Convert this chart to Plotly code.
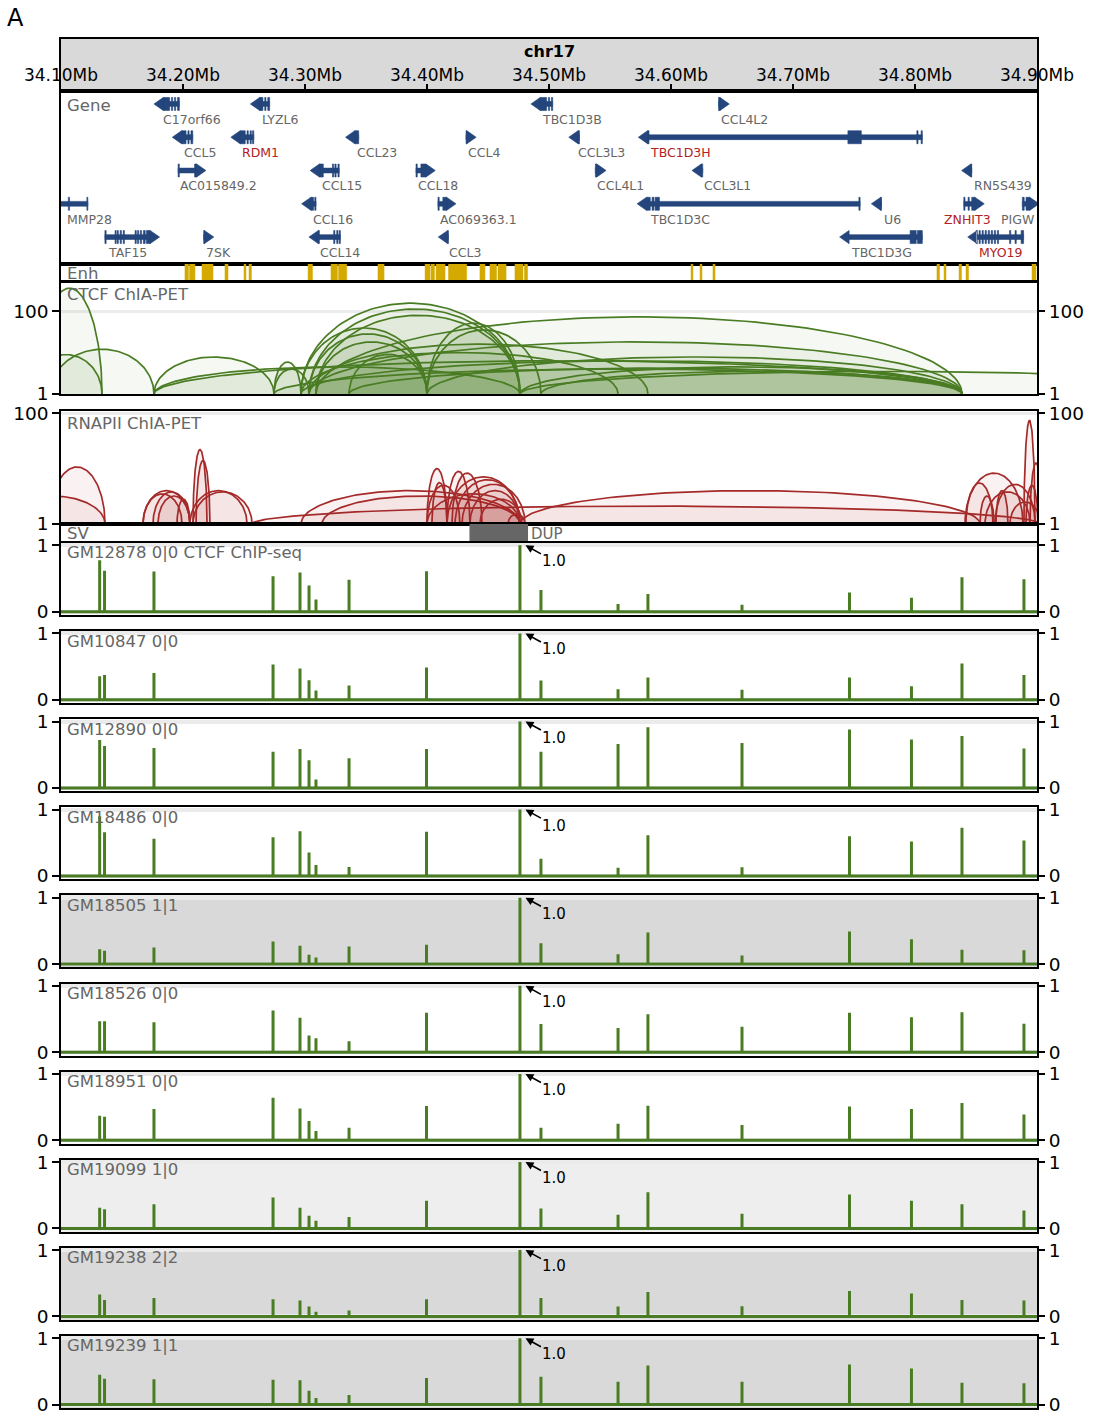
import numpy as np
import plotly.graph_objects as go

W, H = 1093, 1418
REGION = [34.10, 34.90]

# ---------------- data ----------------
TICK_VALS = [34.10, 34.20, 34.30, 34.40, 34.50, 34.60, 34.70, 34.80, 34.90]
TICK_TEXT = ["34.10Mb", "34.20Mb", "34.30Mb", "34.40Mb", "34.50Mb",
             "34.60Mb", "34.70Mb", "34.80Mb", "34.90Mb"]
CHROM = "chr17"

GRAY_TXT = "#666666"
RED_TXT = "#b22222"

gene_names = ["C17orf66", "LYZL6", "TBC1D3B", "CCL4L2",
              "CCL5", "RDM1", "CCL23", "CCL4", "CCL3L3", "TBC1D3H",
              "AC015849.2", "CCL15", "CCL18", "CCL4L1", "CCL3L1", "RN5S439",
              "MMP28", "CCL16", "AC069363.1", "TBC1D3C", "U6", "ZNHIT3", "PIGW",
              "TAF15", "7SK", "CCL14", "CCL3", "TBC1D3G", "MYO19"]
gene_rows = [1, 1, 1, 1,
             2, 2, 2, 2, 2, 2,
             3, 3, 3, 3, 3, 3,
             4, 4, 4, 4, 4, 4, 4,
             5, 5, 5, 5, 5, 5]
gene_strand = ["-", "-", "-", "+",
               "-", "-", "-", "+", "-", "-",
               "+", "-", "+", "+", "-", "-",
               "-", "-", "+", "-", "-", "+", "+",
               "+", "+", "-", "-", "-", "-"]
gene_start = [34.184, 34.263, 34.493, 34.639,
              34.199, 34.247, 34.341, 34.432, 34.524, 34.581,
              34.196, 34.312, 34.391, 34.538, 34.625, 34.846,
              34.080, 34.305, 34.409, 34.580, 34.772, 34.840, 34.888,
              34.136, 34.217, 34.311, 34.417, 34.746, 34.851]
gene_end = [34.197, 34.271, 34.503, 34.640,
            34.208, 34.258, 34.344, 34.4325, 34.525, 34.806,
            34.211, 34.328, 34.399, 34.539, 34.626, 34.8465,
            34.122, 34.309, 34.416, 34.755, 34.7725, 34.849, 34.894,
            34.173, 34.2175, 34.329, 34.4175, 34.806, 34.889]
gene_exons = [
    [(34.184, 34.189), (34.1905, 34.1915), (34.193, 34.194), (34.1955, 34.197)],
    [(34.263, 34.2655), (34.267, 34.268), (34.2695, 34.271)],
    [(34.493, 34.498), (34.4995, 34.5005), (34.502, 34.503)],
    [(34.639, 34.640)],
    [(34.199, 34.2025), (34.204, 34.205), (34.2065, 34.208)],
    [(34.247, 34.251), (34.2525, 34.2535), (34.255, 34.256), (34.257, 34.258)],
    [(34.341, 34.344)],
    [(34.432, 34.4325)],
    [(34.524, 34.525)],
    [(34.581, 34.582), (34.745, 34.756), (34.8015, 34.8025), (34.805, 34.806)],
    [(34.196, 34.197), (34.2095, 34.211)],
    [(34.312, 34.315), (34.3225, 34.3235), (34.3245, 34.3255), (34.327, 34.328)],
    [(34.391, 34.392), (34.395, 34.399)],
    [(34.538, 34.539)],
    [(34.625, 34.626)],
    [(34.846, 34.8465)],
    [(34.106, 34.107), (34.1212, 34.122)],
    [(34.305, 34.307), (34.308, 34.309)],
    [(34.409, 34.410), (34.413, 34.416)],
    [(34.580, 34.583), (34.5845, 34.586), (34.587, 34.5905), (34.754, 34.755)],
    [(34.772, 34.7725)],
    [(34.840, 34.841), (34.8435, 34.8445), (34.8465, 34.849)],
    [(34.888, 34.8895), (34.891, 34.894)],
    [(34.136, 34.137), (34.1443, 34.1452), (34.146, 34.147), (34.1485, 34.1495),
     (34.151, 34.152), (34.1607, 34.1617), (34.1627, 34.1637), (34.165, 34.166),
     (34.1675, 34.169), (34.170, 34.173)],
    [(34.217, 34.2175)],
    [(34.311, 34.3118), (34.3235, 34.3245), (34.326, 34.327), (34.328, 34.329)],
    [(34.417, 34.4175)],
    [(34.796, 34.801), (34.802, 34.806)],
    [(34.850, 34.851), (34.8525, 34.8535), (34.855, 34.856), (34.8575, 34.8585),
     (34.860, 34.861), (34.8625, 34.8635), (34.865, 34.866), (34.8675, 34.8685),
     (34.8775, 34.8785), (34.882, 34.883), (34.887, 34.889)],
]
gene_label_x = [34.182, 34.263, 34.493, 34.639,
                34.199, 34.247, 34.341, 34.432, 34.522, 34.581,
                34.196, 34.312, 34.391, 34.538, 34.625, 34.847,
                34.103, 34.305, 34.409, 34.581, 34.773, 34.822, 34.869,
                34.137, 34.217, 34.311, 34.416, 34.746, 34.851]
gene_highlight = ["RDM1", "TBC1D3H", "ZNHIT3", "MYO19"]

enh_start = [34.2016, 34.2053, 34.2156, 34.2344, 34.2500, 34.2541, 34.3025, 34.3213,
             34.3275, 34.3598, 34.3984, 34.4033, 34.4074, 34.4176, 34.4434, 34.4516,
             34.4582, 34.4721, 34.4799, 34.6164, 34.6238, 34.6344, 34.8180, 34.8238,
             34.8361, 34.8418, 34.8959]
enh_end = [34.2045, 34.2098, 34.2246, 34.2369, 34.2516, 34.2561, 34.3061, 34.3266,
           34.3342, 34.3648, 34.4025, 34.4061, 34.4148, 34.4325, 34.4475, 34.4570,
           34.4648, 34.4787, 34.4824, 34.6180, 34.6254, 34.6361, 34.8201, 34.8254,
           34.8381, 34.8439, 34.8992]

ctcf_start = [34.0803, 34.0746, 34.0910, 34.1762, 34.1762, 34.1762, 34.2746, 34.2746,
              34.2967, 34.3033, 34.3090, 34.2967, 34.3033, 34.3090, 34.3361, 34.4000,
              34.4000, 34.3090, 34.3033, 34.4000, 34.2967, 34.4762, 34.3361, 34.2746,
              34.4934, 34.4762, 34.3033, 34.2967]
ctcf_end = [34.1336, 34.1336, 34.1762, 34.2746, 34.4762, 34.8385, 34.2967, 34.3033,
            34.4762, 34.4762, 34.4762, 34.4000, 34.4000, 34.4000, 34.4000, 34.4762,
            34.4934, 34.8385, 34.8385, 34.8385, 34.8385, 34.8385, 34.8385, 34.8385,
            34.8385, 35.0746, 34.5811, 34.5566]
ctcf_score = [355, 8.9, 12, 7.8, 4.5, 6.3, 5.9, 4.0,
              155, 112, 79, 39, 28, 18, 9, 51,
              35, 72, 18, 7.8, 6.3, 4.5, 4.2, 4.0,
              3.5, 3.5, 16, 10]

rnap_start = [34.0902, 34.0500, 34.1672, 34.1754, 34.1672, 34.1795, 34.1951, 34.2082,
              34.2107, 34.2057, 34.2082, 34.2566, 34.2967, 34.3139, 34.4000, 34.4041,
              34.4000, 34.4164, 34.4205, 34.4164, 34.4230, 34.4287, 34.4000, 34.4352,
              34.4434, 34.4664, 34.4762, 34.8410, 34.8418, 34.8574, 34.8656, 34.8893,
              34.8943, 34.8910, 34.8533, 34.8664, 34.8779]
rnap_end = [34.1361, 34.1361, 34.2057, 34.2057, 34.1992, 34.2057, 34.2057, 34.2197,
            34.2221, 34.2525, 34.2566, 34.9025, 34.4762, 34.4762, 34.4164, 34.4164,
            34.4270, 34.4352, 34.4451, 34.4762, 34.4762, 34.4803, 34.4762, 34.4762,
            34.4779, 34.4803, 34.8533, 34.8885, 34.8639, 34.8943, 34.8984, 34.8984,
            34.9041, 34.9008, 34.8648, 34.8762, 34.9025]
rnap_score = [10.7, 3.2, 4.0, 3.8, 3.5, 3.2, 2.8, 22,
              14, 4.0, 3.8, 2.1, 4.0, 3.2, 10, 5.6,
              5.0, 8.9, 8.3, 7.1, 6.3, 5.2, 3.5, 4.0,
              2.8, 1.5, 4.0, 8.3, 5.5, 3.8, 5.2, 74,
              12.6, 5.0, 3.2, 4.0, 2.5]

sv_start = [34.4348]
sv_end = [34.4828]
sv_type = ["DUP"]

peak_pos = [34.1317, 34.1357, 34.1762, 34.2738, 34.2959, 34.3033, 34.3090, 34.3361,
            34.3996, 34.4762, 34.4934, 34.5566, 34.5811, 34.6582, 34.7463, 34.7971,
            34.8385, 34.8893]
gm12878 = [0.775, 0.615, 0.605, 0.535, 0.59, 0.395, 0.185, 0.48, 0.61, 1.0, 0.325, 0.115, 0.265, 0.105, 0.29, 0.21, 0.52, 0.49]
gm10847 = [0.355, 0.375, 0.405, 0.53, 0.47, 0.295, 0.14, 0.215, 0.485, 1.0, 0.29, 0.16, 0.335, 0.15, 0.335, 0.205, 0.545, 0.375]
gm12890 = [0.72, 0.63, 0.6, 0.545, 0.585, 0.415, 0.125, 0.445, 0.585, 1.0, 0.545, 0.66, 0.915, 0.675, 0.88, 0.73, 0.78, 0.595]
gm18486 = [0.9, 0.66, 0.56, 0.585, 0.675, 0.355, 0.165, 0.135, 0.665, 1.0, 0.26, 0.125, 0.615, 0.13, 0.6, 0.52, 0.725, 0.535]
gm18505 = [0.225, 0.2, 0.25, 0.34, 0.275, 0.14, 0.1, 0.265, 0.29, 1.0, 0.315, 0.15, 0.475, 0.13, 0.49, 0.375, 0.215, 0.21]
gm18526 = [0.465, 0.465, 0.45, 0.63, 0.52, 0.25, 0.21, 0.165, 0.595, 1.0, 0.425, 0.365, 0.57, 0.385, 0.595, 0.525, 0.6, 0.43]
gm18951 = [0.37, 0.355, 0.47, 0.64, 0.48, 0.29, 0.14, 0.19, 0.515, 1.0, 0.19, 0.25, 0.52, 0.23, 0.51, 0.47, 0.56, 0.39]
gm19099 = [0.31, 0.29, 0.365, 0.465, 0.31, 0.19, 0.115, 0.17, 0.415, 1.0, 0.3, 0.205, 0.545, 0.22, 0.51, 0.415, 0.365, 0.27]
gm19238 = [0.33, 0.25, 0.28, 0.26, 0.24, 0.15, 0.07, 0.09, 0.26, 1.0, 0.28, 0.15, 0.37, 0.155, 0.385, 0.345, 0.25, 0.24]
gm19239 = [0.45, 0.39, 0.38, 0.375, 0.365, 0.21, 0.1, 0.145, 0.4, 1.0, 0.42, 0.345, 0.59, 0.345, 0.605, 0.545, 0.33, 0.32]

chip_titles = ["GM12878 0|0 CTCF ChIP-seq", "GM10847 0|0", "GM12890 0|0", "GM18486 0|0",
               "GM18505 1|1", "GM18526 0|0", "GM18951 0|0", "GM19099 1|0",
               "GM19238 2|2", "GM19239 1|1"]
chip_values = [gm12878, gm10847, gm12890, gm18486, gm18505,
               gm18526, gm18951, gm19099, gm19238, gm19239]
chip_bg = ["white", "white", "white", "white", "#d9d9d9",
           "white", "white", "#eeeeee", "#d9d9d9", "#d9d9d9"]
max_label = "1.0"

# ---------------- styles ----------------
FONT = "DejaVu Sans"
GENE_COLOR = "#24467c"
ENH_COLOR = "#d4aa00"
CTCF_LINE = "#4a7c23"
CTCF_FILL = "rgba(74,124,35,0.055)"
RNAP_LINE = "#a52a2a"
RNAP_FILL = "rgba(165,42,42,0.06)"
CHIP_COLOR = "#4a7c23"
XL, XR = 61, 1037
TICK_FONT = 18.5
TITLE_FONT = 16.5

panels = [("header", 39, 91), ("gene", 91, 264), ("enh", 264, 281),
          ("ctcf", 282, 394), ("rnap", 411, 524), ("sv", 524, 542)]
for i in range(10):
    top = 543 + 88.1 * i
    panels.append((f"chip{i}", top, top + 72))


def aname(n, letter):
    return letter if n == 1 else f"{letter}{n}"


def lname(n, letter):
    return f"{letter}axis" if n == 1 else f"{letter}axis{n}"


def ydom(top, bottom):
    return [1 - bottom / H, 1 - top / H]


fig = go.Figure()
layout = {}
shapes = []
annotations = []
idx = {name: i + 1 for i, (name, _, _) in enumerate(panels)}

base_axis = dict(showline=True, mirror=True, linecolor="black", linewidth=1.6,
                 showgrid=False, zeroline=False, fixedrange=True, automargin=False)

for n, (name, top, bottom) in enumerate(panels, start=1):
    xa = dict(base_axis, domain=[XL / W, XR / W], range=REGION, anchor=aname(n, "y"),
              showticklabels=False, ticks="")
    ya = dict(base_axis, domain=ydom(top, bottom), anchor=aname(n, "x"),
              showticklabels=False, ticks="")
    layout[lname(n, "x")] = xa
    layout[lname(n, "y")] = ya

# header axis with inside ticks/labels
hn = idx["header"]
layout[lname(hn, "x")].update(tickvals=TICK_VALS, ticktext=TICK_TEXT, showticklabels=True,
                              ticks="inside", ticklen=7, tickwidth=1.6, tickcolor="black",
                              ticklabelposition="inside", ticklabeloverflow="allow",
                              tickfont=dict(family=FONT, size=17, color="black"))
layout[lname(hn, "y")].update(range=[0, 1])
fig.add_trace(go.Scatter(x=[34.5], y=[0.5], mode="markers", marker=dict(opacity=0, size=1),
                         hoverinfo="skip", showlegend=False,
                         xaxis=aname(hn, "x"), yaxis=aname(hn, "y")))
shapes.append(dict(type="rect", xref=f"{aname(hn,'x')} domain",
                   yref=f"{aname(hn,'y')} domain", x0=0, x1=1, y0=0, y1=1,
                   fillcolor="#d9d9d9", line=dict(width=0), layer="below"))
annotations.append(dict(text=f"<b>{CHROM}</b>", x=549 / W, y=1 - 51 / H, xref="paper",
                        yref="paper", xanchor="center", yanchor="middle", showarrow=False,
                        font=dict(family=FONT, size=16, color="black")))

# ---------------- gene track ----------------
gn = idx["gene"]
layout[lname(gn, "y")].update(range=[5.81, 0.61])
HB, HE, HA, AW = 0.072, 0.195, 0.2, 0.0078
gx, gy = [], []
for k in range(len(gene_names)):
    r = gene_rows[k]
    s, e = gene_start[k], gene_end[k]
    gx += [s, e, e, s, s, None]
    gy += [r - HB, r - HB, r + HB, r + HB, r - HB, None]
    for (a, b) in gene_exons[k]:
        gx += [a, b, b, a, a, None]
        gy += [r - HE, r - HE, r + HE, r + HE, r - HE, None]
    if gene_strand[k] == "+":
        gx += [e, e + AW, e, e, None]
    else:
        gx += [s, s - AW, s, s, None]
    gy += [r - HA, r, r + HA, r - HA, None]
fig.add_trace(go.Scatter(x=gx, y=gy, mode="lines", fill="toself", fillcolor=GENE_COLOR,
                         line=dict(color=GENE_COLOR, width=0.6), hoverinfo="skip",
                         showlegend=False, xaxis=aname(gn, "x"), yaxis=aname(gn, "y")))
for k, nm in enumerate(gene_names):
    annotations.append(dict(text=nm, x=gene_label_x[k], y=gene_rows[k] + 0.46,
                            xref=aname(gn, "x"), yref=aname(gn, "y"), xanchor="left",
                            yanchor="middle", showarrow=False,
                            font=dict(family=FONT, size=12.5,
                                      color=RED_TXT if nm in gene_highlight else GRAY_TXT)))

# ---------------- enhancer track ----------------
en = idx["enh"]
layout[lname(en, "y")].update(range=[0, 1])
ex, ey = [], []
for a, b in zip(enh_start, enh_end):
    ex += [a, b, b, a, a, None]
    ey += [0, 0, 1, 1, 0, None]
fig.add_trace(go.Scatter(x=ex, y=ey, mode="lines", fill="toself", fillcolor=ENH_COLOR,
                         line=dict(color=ENH_COLOR, width=0.5), hoverinfo="skip",
                         showlegend=False, xaxis=aname(en, "x"), yaxis=aname(en, "y")))


# ---------------- arc tracks ----------------
def arc_xy(s, e, h, n=90):
    t = np.linspace(0, np.pi, n)
    c, hw = (s + e) / 2, (e - s) / 2
    return c + hw * np.cos(t), 10 ** (np.log10(h) * np.sin(t))


right_axis_no = len(panels)


def add_right_axis(n, yrange, ytype, tickvals, ticktext):
    global right_axis_no
    right_axis_no += 1
    r = right_axis_no
    layout[lname(r, "y")] = dict(overlaying=aname(n, "y"), side="right", anchor=aname(n, "x"),
                                 range=yrange, type=ytype, tickvals=tickvals, ticktext=ticktext,
                                 ticks="outside", ticklen=7, tickwidth=1.6, tickcolor="black",
                                 showline=False, showgrid=False, zeroline=False, fixedrange=True,
                                 automargin=False,
                                 tickfont=dict(family=FONT, size=TICK_FONT, color="black"))
    fig.add_trace(go.Scatter(x=[34.5], y=[tickvals[0]], mode="markers",
                             marker=dict(opacity=0, size=1), hoverinfo="skip", showlegend=False,
                             xaxis=aname(n, "x"), yaxis=aname(r, "y")))


def arc_panel(name, starts, ends, scores, line, fill, yr):
    n = idx[name]
    layout[lname(n, "y")].update(type="log", range=yr, tickvals=[1, 100], ticktext=["1", "100"],
                                 showticklabels=True, ticks="outside", ticklen=7, tickwidth=1.6,
                                 tickcolor="black", showgrid=True, gridcolor="#ececec", gridwidth=3,
                                 tickfont=dict(family=FONT, size=TICK_FONT, color="black"))
    for s, e, h in zip(starts, ends, scores):
        x, y = arc_xy(s, e, h)
        fig.add_trace(go.Scatter(x=x, y=y, mode="lines", fill="toself", fillcolor=fill,
                                 line=dict(color=line, width=1.7), hoverinfo="skip",
                                 showlegend=False, xaxis=aname(n, "x"), yaxis=aname(n, "y")))
    add_right_axis(n, yr, "log", [1, 100], ["1", "100"])


arc_panel("ctcf", ctcf_start, ctcf_end, ctcf_score, CTCF_LINE, CTCF_FILL, [0, 2.70])
arc_panel("rnap", rnap_start, rnap_end, rnap_score, RNAP_LINE, RNAP_FILL, [0, 2.04])

# ---------------- SV track ----------------
sn = idx["sv"]
layout[lname(sn, "y")].update(range=[0, 1])
for a, b, t in zip(sv_start, sv_end, sv_type):
    fig.add_trace(go.Scatter(x=[a, b, b, a, a], y=[0, 0, 1, 1, 0], mode="lines", fill="toself",
                             fillcolor="#666666", line=dict(color="#666666", width=0),
                             hoverinfo="skip", showlegend=False,
                             xaxis=aname(sn, "x"), yaxis=aname(sn, "y")))
    annotations.append(dict(text=t, x=b, y=0.45, xref=aname(sn, "x"), yref=aname(sn, "y"),
                            xanchor="left", yanchor="middle", showarrow=False, xshift=1,
                            font=dict(family=FONT, size=15, color=GRAY_TXT)))

# ---------------- ChIP-seq tracks ----------------
order = np.argsort(peak_pos)
for i in range(10):
    n = idx[f"chip{i}"]
    yr = [-0.05, 1.035]
    layout[lname(n, "y")].update(range=yr, tickvals=[0, 1], ticktext=["0", "1"],
                                 showticklabels=True, ticks="outside", ticklen=7, tickwidth=1.6,
                                 tickcolor="black", showgrid=True, gridcolor="#ebebeb", gridwidth=4,
                                 tickfont=dict(family=FONT, size=TICK_FONT, color="black"))
    if chip_bg[i] != "white":
        shapes.append(dict(type="rect", xref=f"{aname(n,'x')} domain", yref=f"{aname(n,'y')} domain",
                           x0=0, x1=1, y0=0, y1=1, fillcolor=chip_bg[i], line=dict(width=0),
                           layer="below"))
    xs, ys = [REGION[0]], [0.0]
    vals = chip_values[i]
    for j in order:
        p, v = peak_pos[j], vals[j]
        xs += [p, p, p]
        ys += [0.0, v, 0.0]
    xs.append(REGION[1])
    ys.append(0.0)
    fig.add_trace(go.Scatter(x=xs, y=ys, mode="lines", line=dict(color=CHIP_COLOR, width=3),
                             hoverinfo="skip", showlegend=False,
                             xaxis=aname(n, "x"), yaxis=aname(n, "y")))
    add_right_axis(n, yr, "linear", [0, 1], ["0", "1"])
    jmax = int(np.argmax(vals))
    annotations.append(dict(text=max_label, x=peak_pos[jmax] + 0.0045, y=vals[jmax],
                            xref=aname(n, "x"), yref=aname(n, "y"), showarrow=True,
                            ax=29, ay=16, arrowhead=2, arrowsize=1, arrowwidth=1.6,
                            arrowcolor="black", font=dict(family=FONT, size=15, color="black")))

# ---------------- track titles ----------------
titles = [("Gene", 91, 15), ("Enh", 264, 9), ("CTCF ChIA-PET", 282, 12),
          ("RNAPII ChIA-PET", 411, 13), ("SV", 524, 9)]
for i in range(10):
    titles.append((chip_titles[i], panels[idx[f"chip{i}"] - 1][1], 10))
for text, top, off in titles:
    annotations.append(dict(text=text, x=65 / W, y=1 - (top + off) / H, xref="paper", yref="paper",
                            xanchor="left", yanchor="middle", showarrow=False,
                            font=dict(family=FONT, size=TITLE_FONT, color=GRAY_TXT)))

annotations.append(dict(text="A", x=5 / W, y=1 - 18 / H, xref="paper", yref="paper",
                        xanchor="left", yanchor="middle", showarrow=False,
                        font=dict(family=FONT, size=24, color="black")))

fig.update_layout(width=W, height=H, margin=dict(l=0, r=0, t=0, b=0, pad=0, autoexpand=False),
                  paper_bgcolor="white", plot_bgcolor="white", showlegend=False,
                  font=dict(family=FONT), shapes=shapes, annotations=annotations, **layout)
fig.write_html("out.html", config={"displayModeBar": False},
               post_script="document.body.style.margin='0';")
